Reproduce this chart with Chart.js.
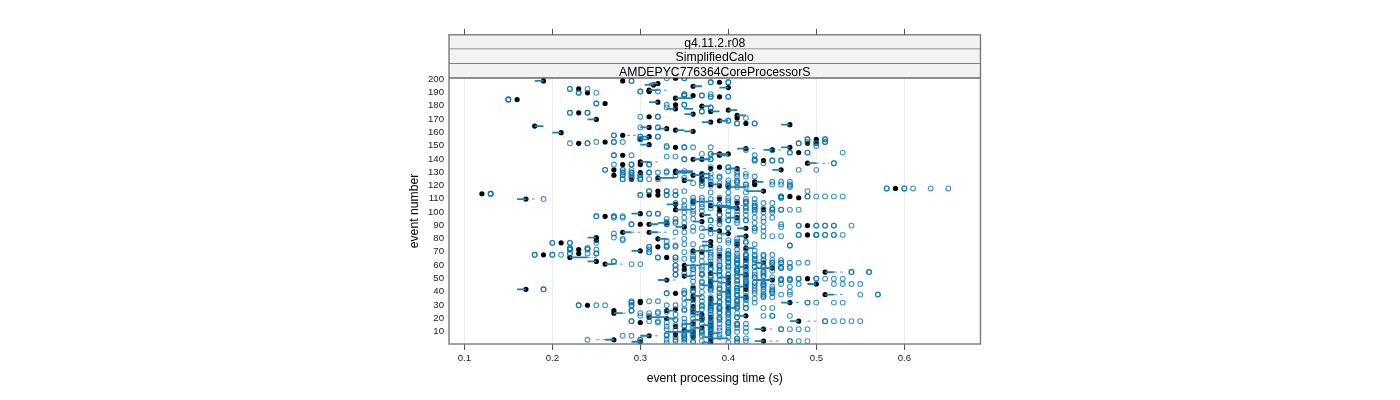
<!DOCTYPE html>
<html lang="en">
<head>
  <meta charset="UTF-8" />
  <title>event processing time</title>
  <script src="https://cdn.jsdelivr.net/npm/chart.js"></script>
  <style>
    body { margin: 0; background: #fff; }
    canvas { display: block; }
  </style>
</head>
<body>
  <canvas id="chart" width="1400" height="400"></canvas>

  <script>
    const stripLabels = ['g4.11.2.r08', 'SimplifiedCalo', 'AMDEPYC776364CoreProcessorS'];
    const xTicks = [0.1, 0.2, 0.3, 0.4, 0.5, 0.6];
    const yTicks = [10, 20, 30, 40, 50, 60, 70, 80, 90, 100, 110, 120, 130, 140, 150, 160, 170, 180, 190, 200];

    // [event, median]
    const medians = [
      [198,.19],[198,.28],[200,.34],[197,.39],[196,.32],[195,.315],[194,.36],[193,.40],[191,.31],[190,.31],
      [192,.23],[189,.24],[187,.36],[186,.39],[185,.34],[184,.16],[181,.26],[182,.32],[180,.34],[179,.37],
      [177,.34],[176,.40],[175,.38],[174,.23],[173,.36],[172,.41],[170,.41],[171,.31],[169,.25],[168,.39],
      [167,.38],[166,.42],[165,.47],[164,.18],[163,.31],[162,.33],[161,.34],[160,.36],[159,.21],[157,.28],
      [156,.31],[154,.30],[154,.50],[152,.50],[152,.26],[151,.23],[151,.49],[150,.31],[148,.34],[148,.47],
      [147,.42],[146,.45],[144,.48],[143,.39],[143,.40],[142,.28],[142,.39],[139,.36],[139,.37],[138,.44],
      [137,.30],[136,.49],[135,.28],[135,.30],[133,.39],[132,.41],[132,.38],[131,.46],[131,.27],[130,.34],
      [129,.30],[129,.34],[128,.37],[127,.27],[127,.36],[125,.32],[125,.37],[124,.29],[123,.35],[123,.37],
      [122,.43],[120,.38],[120,.43],[119,.39],[118,.40],[117,.59],[115,.44],[115,.32],[113,.12],[112,.31],
      [112,.32],[111,.47],[110,.48],[109,.39],[109,.17],[107,.36],[106,.41],[105,.34],[104,.38],[103,.39],
      [102,.41],[101,.44],[101,.34],[100,.39],[98,.30],[97,.37],[96,.26],[95,.41],[93,.39],[92,.37],
      [91,.33],[90,.30],[90,.31],[89,.49],[88,.35],[87,.42],[86,.38],[85,.39],[84,.28],[84,.31],
      [83,.40],[82,.49],[81,.42],[80,.25],[79,.32],[78,.25],[77,.38],[76,.21],[75,.41],[74,.38],
      [73,.32],[72,.42],[71,.23],[70,.30],[70,.36],[69,.37],[68,.23],[67,.19],[66,.39],[65,.22],
      [65,.33],[63,.42],[62,.25],[61,.44],[60,.26],[60,.38],[59,.35],[58,.42],[57,.45],[56,.35],
      [54,.51],[53,.38],[52,.42],[51,.35],[50,.40],[49,.49],[48,.33],[48,.45],[47,.38],[46,.40],
      [45,.50],[44,.38],[43,.42],[42,.36],[41,.42],[41,.17],[39,.40],[38,.34],[37,.51],[36,.36],
      [35,.42],[34,.38],[33,.36],[32,.30],[31,.47],[31,.30],[30,.38],[29,.24],[28,.36],[27,.40],
      [26,.34],[25,.27],[25,.33],[24,.36],[23,.27],[22,.37],[21,.42],[20,.31],[20,.38],[19,.33],
      [18,.37],[17,.48],[16,.30],[15,.36],[14,.38],[13,.34],[12,.37],[11,.44],[10,.35],[9,.36],
      [8,.38],[7,.34],[6,.31],[5,.36],[4,.38],[3,.27],[2,.44],[1.5,.30],[1,.38]
    ];

    // [event, box low, box high]
    const boxes = [
      [198,.18,.19],[196,.31,.32],[195,.305,.315],[194,.36,.37],[193,.39,.40],[191,.31,.32],[185,.34,.36],[182,.31,.32],
      [179,.37,.38],[177,.33,.34],[177,.35,.36],[176,.40,.41],[175,.38,.39],[173,.35,.36],[172,.41,.42],[169,.24,.25],
      [168,.39,.40],[167,.37,.38],[165,.46,.47],[164,.18,.19],[163,.30,.31],[162,.32,.33],[161,.34,.35],[160,.35,.36],
      [159,.20,.21],[156,.30,.31],[154,.30,.31],[150,.30,.31],[148,.46,.47],[147,.41,.42],[146,.44,.45],[143,.38,.40],
      [142,.39,.40],[139,.36,.38],[137,.30,.31],[136,.49,.50],[132,.40,.41],[131,.45,.46],[130,.34,.36],[129,.34,.36],
      [128,.37,.38],[127,.36,.37],[125,.32,.34],[125,.37,.38],[123,.35,.36],[122,.43,.44],[120,.38,.39],[118,.40,.42],
      [115,.42,.44],[109,.16,.17],[107,.36,.38],[105,.33,.34],[104,.38,.40],[103,.39,.41],[102,.40,.41],[101,.34,.36],
      [98,.29,.30],[97,.37,.38],[95,.40,.41],[92,.36,.37],[91,.32,.33],[90,.31,.32],[88,.34,.35],[87,.41,.42],
      [86,.37,.38],[85,.38,.39],[84,.28,.29],[84,.31,.32],[83,.39,.40],[81,.41,.42],[80,.24,.25],[79,.32,.33],
      [77,.37,.38],[74,.37,.38],[72,.42,.43],[70,.29,.30],[70,.36,.38],[65,.22,.24],[62,.24,.25],[61,.43,.44],
      [60,.26,.27],[60,.37,.38],[59,.35,.37],[58,.41,.42],[57,.43,.45],[54,.51,.52],[53,.38,.39],[52,.41,.42],
      [51,.35,.36],[50,.39,.40],[48,.32,.33],[48,.43,.45],[47,.38,.39],[46,.39,.40],[45,.49,.50],[44,.37,.38],
      [43,.41,.42],[41,.16,.17],[39,.39,.40],[37,.51,.52],[36,.36,.37],[35,.41,.42],[33,.35,.36],[31,.46,.47],
      [30,.38,.39],[27,.40,.41],[25,.33,.34],[24,.36,.37],[23,.27,.28],[22,.36,.37],[21,.41,.42],[20,.31,.33],
      [19,.33,.34],[18,.36,.37],[17,.47,.48],[15,.35,.36],[14,.37,.38],[12,.36,.37],[11,.43,.44],[10,.35,.36],
      [9,.33,.36],[8,.38,.39],[6,.30,.31],[5,.37,.38],[4,.38,.40],[3,.26,.27],[2,.43,.44],[1.5,.29,.30],[1,.37,.38]
    ];

    // [event, whisker low, whisker high]
    const whiskers = [
      [191,.32,.33],[157,.285,.295],[147,.42,.43],[146,.45,.46],[137,.31,.32],[136,.50,.515],[132,.41,.42],[125,.34,.35],
      [109,.17,.18],[105,.34,.35],[104,.40,.42],[84,.29,.30],[84,.32,.33],[79,.33,.34],[65,.24,.25],[60,.27,.28],
      [54,.52,.53],[48,.33,.34],[37,.52,.53],[31,.47,.48],[23,.28,.29],[17,.49,.50],[11,.44,.45],[6,.31,.32],[3,.25,.26],[2,.44,.46]
    ];

    // [event, outlier, outlier, ...] a value listed twice reads darker
    const outliers = [
      [198,.29,.29],[200,.33,.35,.35],[197,.38,.38,.40,.40],[192,.22,.22,.24],[190,.30,.30,.32],[189,.23,.23,.25],[188,.38,.35,.35],
      [187,.35,.35,.37,.37],[186,.38,.38,.40,.40],[184,.15,.15,.15],[181,.25,.25],[180,.33,.35,.35],[178,.33,.38,.38],
      [175,.37,.37],[174,.22,.22,.24,.24],[171,.30,.32,.32],[170,.42],[168,.40,.40],[166,.41,.41,.43,.43],[163,.30,.32,.32],
      [157,.27,.27],[156,.30,.30,.32,.32],[154,.30,.30,.49,.49,.51,.51],[152,.25,.27,.27,.28,.49,.51,.51],[151,.22,.24,.24,.48,.48,.50,.50],
      [149,.33,.50],[148,.33,.35,.35,.36,.38],[146,.45,.42],[144,.47,.47,.49,.49,.53],[143,.38,.38,.37],[142,.27,.27,.29,.43],[141,.33,.34],
      [139,.35,.35,.38,.38,.43],[138,.43,.43,.45,.45,.46,.46],[135,.27,.29,.29,.31,.31],[136,.44,.52,.52],[133,.38,.40,.40],
      [131,.26,.26,.28,.28,.29,.48,.50],[130,.33,.35,.40,.41],[129,.28,.28,.29,.29,.31,.31,.32,.33],[128,.41,.42,.37,.38],[127,.28,.28,.29,.29,.30,.30,.34],
      [126,.39,.41,.42,.43],[125,.29,.29,.30,.35,.38,.39],[124,.28,.28,.30,.30,.31,.32],[123,.40,.41,.37],[122,.38,.41,.45,.46,.47],
      [121,.36,.37,.39,.40,.41],[120,.42,.42,.45,.46,.47],[119,.37,.38,.40,.40,.47],[118,.41,.42,.47],[117,.58,.58,.60,.60,.61,.63,.65],
      [115,.31,.31,.33,.33,.34,.35,.49],[114,.38,.40,.42],[113,.13,.13,.13],[112,.30,.30,.33,.33,.34,.34],[111,.46,.46,.49,.49,.50,.51,.52,.53],
      [110,.39,.40,.41,.46,.46,.36,.37],[109,.19,.38,.42,.43],[108,.35,.36,.37,.40],[107,.41,.42,.42],[106,.34,.36,.38,.40,.42,.43,.44,.45],
      [105,.37,.39],[104,.35,.43,.43],[103,.36,.37,.42,.43],[102,.35,.38,.42,.44,.45],[101,.43,.43,.45,.45,.46,.46,.47,.48],[100,.36,.37,.40,.41,.42],
      [99,.35,.43,.44,.45],[98,.31,.31,.32,.32,.36],[97,.39,.39,.40,.41,.42],[96,.25,.25,.27,.27,.28],[95,.27,.28,.35,.43,.44,.45],[94,.33,.34,.36,.39],
      [93,.38,.38,.40,.40,.41,.42,.42],[92,.33,.34,.39,.44],[91,.34,.35,.41,.43],[90,.29,.29,.33,.33,.46,.39],[89,.48,.48,.50,.50,.51,.51,.52,.52,.54],
      [88,.36,.38,.44,.46],[87,.40,.40,.43,.43,.37],[85,.43,.44,.36],[84,.34,.35],[83,.27,.38],[82,.48,.48,.50,.50,.50,.51,.51,.52,.52,.53],
      [81,.44,.45,.46,.39,.37],[80,.27],[79,.35,.28,.41],[78,.28,.39,.40],[77,.41,.42,.33],[76,.20,.20,.22,.22,.25,.40,.41,.42],[75,.35,.36,.43],
      [74,.47,.47,.33,.34,.41],[73,.31,.31,.33,.33,.34],[72,.22,.22,.24,.24,.38,.39,.37],[71,.22,.22,.24,.25,.41,.42,.31],[70,.39,.40,.43],
      [69,.31,.31,.35,.36,.38],[68,.22,.22,.24,.25,.25,.40,.41],[67,.18,.18,.20,.20,.21,.40,.40,.38,.39,.42,.42,.43,.44,.45],[66,.36,.37,.41,.42,.43,.44],
      [65,.32,.32,.34,.34,.38,.40,.40],[64,.35,.36,.39,.40,.41,.42,.42,.43],[63,.34,.36,.41,.41,.43,.44,.44,.45,.46],[62,.27,.27,.37,.38,.39,.40],
      [61,.40,.41,.42,.43,.45,.45,.46,.46,.47,.48,.49],[60,.29,.30,.41,.41,.42],[59,.34,.34,.38,.39,.39,.44,.45],[58,.36,.37,.40,.40,.43,.43,.44,.44,.46,.47],
      [57,.41,.42,.38,.39,.46,.46,.47],[56,.34,.34,.36,.36,.37,.38,.40,.41],[55,.39,.39,.41,.41,.42,.44,.45],[54,.54,.54,.56,.56,.43,.44],
      [53,.35,.36,.37,.41,.42,.44],[52,.34,.34,.37,.37,.39,.40,.40,.43],[51,.38,.39,.41,.41,.42,.44,.44],[50,.36,.38,.42,.43,.43,.45],
      [49,.40,.40,.46,.47,.48,.48,.50,.50,.51,.52,.53],[48,.38,.39,.41,.42,.46,.46,.47,.47],[47,.36,.37,.41,.42,.44],[46,.37,.38,.42,.43,.43],
      [45,.41,.42,.44,.44,.46,.48,.52,.53,.54,.55],[44,.39,.40,.40,.42,.43,.44],[43,.36,.37,.38,.44,.45,.47],[42,.38,.39,.40,.41,.41,.43],
      [41,.19,.19,.38,.39,.44,.45],[40,.35,.36,.38,.40,.40,.41,.41,.43,.45],[39,.36,.37,.42,.44,.45,.47],[38,.33,.33,.35,.35,.39,.40,.43,.45],
      [37,.40,.41,.41,.44,.46,.47,.55,.57,.57],[36,.39,.40,.41,.42,.44],[35,.37,.38,.39,.44,.45],[34,.35,.36,.40,.40,.42,.43],[33,.38,.40,.40,.41,.42],
      [32,.29,.31,.32,.37,.38,.39,.41,.41],[31,.29,.29,.39,.40,.43,.49,.49,.50,.52,.53],[30,.35,.36,.40,.41,.42],[29,.23,.23,.25,.26,.29,.29,.33,.34,.37,.38],
      [28,.37,.38,.39,.40,.41],[27,.38,.38,.39,.39,.41,.41,.42,.42,.44,.45],[26,.35,.36,.37,.39,.40],[25,.29,.29,.35,.36,.38,.38],[24,.32,.33,.39,.40],
      [23,.30,.31,.32,.39,.40,.41],[22,.34,.36,.38,.38,.40],[21,.30,.31,.44,.45,.45,.47],[20,.37,.39,.40,.41,.41],[19,.35,.36,.37,.38,.39],
      [18,.38,.39,.40,.34,.34],[17,.29,.29,.31,.32,.51,.51,.52,.53,.54,.55],[16,.32,.33,.35,.36,.38,.38,.40,.40],[15,.37,.38,.39,.41,.41,.42],[14,.34,.35,.40,.41],
      [13,.33,.35,.36,.38,.38],[12,.38,.39,.40,.41,.42],[11,.33,.34,.36,.38,.46,.46,.47,.48,.49],[10,.37,.38,.39,.40],[9,.37,.38,.40,.41,.42],
      [8,.35,.36,.37,.40,.40],[7,.33,.35,.36,.38,.39],[6,.28,.29,.33,.35,.36,.37,.38],[5,.34,.35,.39,.40],[4,.35,.41,.41,.42],
      [3,.24,.30,.30,.33,.34,.35,.38],[2,.34,.36,.37,.41,.42,.47,.47,.48,.49],[1,.33,.35,.36,.40,.41]
    ];

    // line datasets break at a NaN point
    function segments(rows) {
      const points = [];
      rows.forEach(([event, low, high]) => {
        points.push({ x: low, y: event }, { x: high, y: event }, { x: NaN, y: NaN });
      });
      return points;
    }

    const outlierPoints = outliers.flatMap(([event, ...values]) => values.map(v => ({ x: v, y: event })));
    const medianPoints = medians.map(([event, v]) => ({ x: v, y: event }));

    // strips, top ticks and the panel frame sit outside what the scales draw
    const latticeFrame = {
      id: 'latticeFrame',
      afterDraw(chart) {
        const { ctx, chartArea, scales } = chart;
        const stripH = 14.4;
        const left = chartArea.left, right = chartArea.right, bottom = chartArea.top;
        ctx.save();
        ctx.fillStyle = '#fff';
        ctx.fillRect(left, bottom - 3 * stripH, right - left, 3 * stripH);
        stripLabels.forEach((label, i) => {
          const y = bottom - (3 - i) * stripH;
          ctx.fillStyle = '#f2f2f2';
          ctx.fillRect(left, y, right - left, stripH);
          ctx.strokeStyle = '#222';
          ctx.lineWidth = 1;
          ctx.beginPath();
          ctx.moveTo(left, y + stripH);
          ctx.lineTo(right, y + stripH);
          ctx.stroke();
          ctx.fillStyle = '#000';
          ctx.font = '12.25px "Liberation Sans"';
          ctx.textAlign = 'center';
          ctx.textBaseline = 'middle';
          ctx.fillText(label, (left + right) / 2, y + stripH / 2 + 1.5);
        });
        ctx.strokeStyle = '#7a7a7a';
        ctx.lineWidth = 1.4;
        ctx.strokeRect(left, bottom - 3 * stripH, right - left, chartArea.bottom - bottom + 3 * stripH);
        ctx.strokeStyle = '#555';
        ctx.lineWidth = 1;
        ctx.beginPath();
        xTicks.forEach(v => {
          const x = Math.round(scales.x.getPixelForValue(v)) + 0.5;
          ctx.moveTo(x, bottom - 3 * stripH);
          ctx.lineTo(x, bottom - 3 * stripH - 6);
        });
        ctx.stroke();
        ctx.restore();
      }
    };

    new Chart(document.getElementById('chart').getContext('2d'), {
      type: 'scatter',
      plugins: [latticeFrame],
      data: {
        datasets: [
          {
            label: 'whisker',
            data: segments(whiskers),
            showLine: true,
            pointRadius: 0,
            borderColor: 'rgba(0,114,178,0.7)',
            borderWidth: 1,
            borderDash: [3, 3],
            spanGaps: false
          },
          {
            label: 'box',
            data: segments(boxes),
            showLine: true,
            pointRadius: 0,
            borderColor: '#1b80bb',
            borderWidth: 1.8,
            spanGaps: false
          },
          {
            label: 'outlier',
            data: outlierPoints,
            pointRadius: 2.4,
            pointBorderWidth: 1.1,
            pointBackgroundColor: 'rgba(0,0,0,0)',
            pointBorderColor: 'rgba(0,114,178,0.75)'
          },
          {
            label: 'median',
            data: medianPoints,
            pointRadius: 2.6,
            pointBorderWidth: 0,
            pointBackgroundColor: '#000'
          }
        ]
      },
      options: {
        responsive: false,
        animation: false,
        layout: { padding: { left: 407, right: 419.5, top: 78, bottom: 14 } },
        plugins: {
          legend: { display: false },
          tooltip: { enabled: false }
        },
        scales: {
          x: {
            type: 'linear',
            min: 0.0826,
            max: 0.6866,
            afterBuildTicks(scale) { scale.ticks = xTicks.map(value => ({ value })); },
            afterFit(scale) { scale.height = 42; },
            grid: { color: '#ededed', lineWidth: 1, tickColor: '#555', tickLength: 6, drawOnChartArea: true },
            border: { display: false },
            ticks: { color: '#222', font: { family: 'Liberation Sans', size: 9.6 }, padding: 3, maxRotation: 0, callback: v => v.toFixed(1) },
            title: { display: true, text: 'event processing time (s)', color: '#000', font: { family: 'Liberation Sans', size: 12.2 }, padding: { top: 5, bottom: 0 } }
          },
          y: {
            type: 'linear',
            min: -0.2,
            max: 200.2,
            afterBuildTicks(scale) { scale.ticks = yTicks.map(value => ({ value })); },
            afterFit(scale) { scale.width = 42; },
            grid: { display: false, drawTicks: false },
            border: { display: false },
            ticks: { color: '#222', font: { family: 'Liberation Sans', size: 9.6 }, padding: 5, autoSkip: false, labelOffset: 1 },
            title: { display: true, text: 'event number', color: '#000', font: { family: 'Liberation Sans', size: 12.2 }, padding: 0 }
          }
        }
      }
    });
  </script>
</body>
</html>
